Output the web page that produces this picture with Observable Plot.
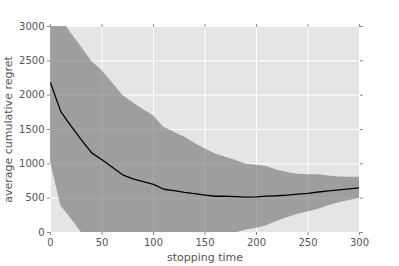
<!DOCTYPE html>
<html>
<head>
<meta charset="utf-8">
<script src="https://cdn.jsdelivr.net/npm/d3@7"></script>
<script src="https://cdn.jsdelivr.net/npm/@observablehq/plot@0.6"></script>
<style>
  html, body { margin: 0; padding: 0; background: #fff; }
  svg { display: block; }
</style>
</head>
<body>
<div id="chart"></div>
<script>
const stoppingTime = [0,10,20,30,40,50,60,70,80,90,100,110,120,130,140,150,160,170,180,190,200,210,220,230,240,250,260,270,280,290,300];
const meanRegret   = [2180,1760,1550,1350,1160,1060,950,840,780,740,700,630,610,585,565,545,528,528,522,515,520,530,535,545,558,570,590,605,620,635,650];
const upperBand    = [3330,3130,2900,2700,2490,2360,2180,2000,1890,1790,1700,1533,1460,1390,1300,1220,1145,1095,1050,995,978,960,905,875,850,840,840,822,808,805,805];
const lowerBand    = [1030,390,200,0,-170,-240,-280,-320,-330,-310,-300,-270,-240,-220,-170,-130,-90,-40,-5,35,62,100,165,215,266,300,340,388,432,465,495];
const xTicks = [0,50,100,150,200,250,300];
const yTicks = [0,500,1000,1500,2000,2500,3000];

const data = stoppingTime.map((t, i) => ({t, mean: meanRegret[i], lo: lowerBand[i], hi: upperBand[i]}));

const tickColor = "#555";
const fmt = d => String(d);
const chart = Plot.plot({
  width: 399,
  height: 266,
  marginLeft: 50,
  marginRight: 40,
  marginTop: 26,
  marginBottom: 34,
  style: {fontFamily: "DejaVu Sans", fontSize: "9.5px", color: tickColor, background: "#fff"},
  x: {domain: [0, 300]},
  y: {domain: [0, 3000]},
  marks: [
    Plot.frame({fill: "#e5e5e5", stroke: null}),
    Plot.gridX(xTicks, {stroke: "#fff", strokeOpacity: 1, strokeWidth: 1}),
    Plot.gridY(yTicks, {stroke: "#fff", strokeOpacity: 1, strokeWidth: 1}),
    Plot.areaY(data, {x: "t", y1: "lo", y2: "hi", fill: "#727272", fillOpacity: 0.62, clip: true}),
    Plot.lineY(data, {x: "t", y: "mean", stroke: "#000", strokeWidth: 1.3, clip: true}),
    Plot.axisX(xTicks, {anchor: "bottom", tickSize: 3, tickPadding: 3, tickFormat: fmt, stroke: "#888", fill: tickColor, label: "stopping time", labelAnchor: "center", labelArrow: "none", labelOffset: 28, fontSize: 10}),
    Plot.axisX(xTicks, {anchor: "top", tickSize: 3, tickFormat: () => "", stroke: "#888", label: null}),
    Plot.axisY(yTicks, {anchor: "left", tickSize: 3, tickPadding: 3, tickFormat: fmt, stroke: "#888", fill: tickColor, label: "average cumulative regret", labelAnchor: "center", labelArrow: "none", labelOffset: 46, fontSize: 10}),
    Plot.axisY(yTicks, {anchor: "right", tickSize: 3, tickFormat: () => "", stroke: "#888", label: null})
  ]
});
document.getElementById("chart").appendChild(chart);
chart.querySelectorAll("g[aria-label='x-axis label'], g[aria-label='y-axis label']").forEach(g => {
  g.setAttribute("font-size", "11");
  g.querySelectorAll("text").forEach(t => t.setAttribute("font-size", "11"));
});
</script>
</body>
</html>
